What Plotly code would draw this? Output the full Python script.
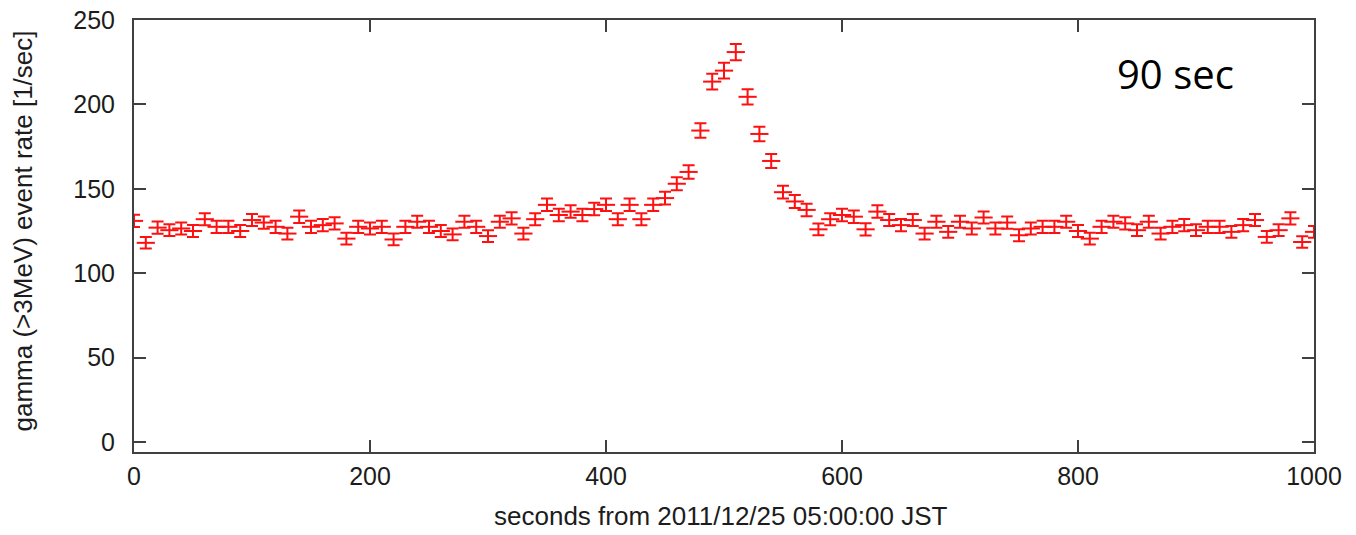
import plotly.graph_objects as go

# Gamma-ray (>3 MeV) event rate in 10-second bins
seconds = list(range(0, 1001, 10))

rate = [
    131, 118, 127, 125.5, 126.5, 125, 132, 127.5, 127.5, 125,
    131.5, 130, 127.5, 123.5, 133.5, 127.5, 128.5, 129.5, 120.5, 127.5,
    126.5, 127.5, 120, 127.5, 130.5, 127.5, 125, 123, 130.5, 127.5,
    122, 130.5, 132.5, 123.5, 132, 140.5, 134.5, 136.5, 134.5, 138,
    140.5, 132, 140.5, 132, 140.5, 144.5, 153, 160, 184.5, 213.5,
    220, 231, 204.5, 182.5, 166.5, 148, 142.5, 137.5, 126, 132,
    134.5, 133.5, 126, 136.5, 131.5, 128.5, 131.5, 123.5, 130.5, 124.5,
    130.5, 126.5, 133, 126.5, 130, 122.5, 126.5, 127.5, 127.5, 130.5,
    125, 120.5, 127.5, 130.5, 129.5, 125.5, 130.5, 123.5, 127.5, 128.5,
    125.5, 127.5, 127.5, 124.5, 128.5, 131.5, 121.5, 125.5, 132.5, 118.5,
    124.5,
]

rate_err = [
    3.6, 3.4, 3.6, 3.5, 3.6, 3.5, 3.6, 3.6, 3.6, 3.5,
    3.6, 3.6, 3.6, 3.5, 3.7, 3.6, 3.6, 3.6, 3.5, 3.6,
    3.6, 3.6, 3.5, 3.6, 3.6, 3.6, 3.5, 3.5, 3.6, 3.6,
    3.5, 3.6, 3.6, 3.5, 3.6, 3.7, 3.7, 3.7, 3.7, 3.7,
    3.7, 3.6, 3.7, 3.6, 3.7, 3.8, 3.9, 4.0, 4.3, 4.6,
    4.7, 4.8, 4.5, 4.3, 4.1, 3.8, 3.8, 3.7, 3.5, 3.6,
    3.7, 3.7, 3.6, 3.7, 3.6, 3.6, 3.6, 3.5, 3.6, 3.5,
    3.6, 3.6, 3.6, 3.6, 3.6, 3.5, 3.6, 3.6, 3.6, 3.6,
    3.5, 3.5, 3.6, 3.6, 3.6, 3.5, 3.6, 3.5, 3.6, 3.6,
    3.5, 3.6, 3.6, 3.5, 3.6, 3.6, 3.5, 3.5, 3.6, 3.4,
    3.5,
]

x_ticks = [0, 200, 400, 600, 800, 1000]
y_ticks = [0, 50, 100, 150, 200, 250]

RED = "#ff1010"
FRAME = "#404040"
TEXT = "#1c1c1c"

fig = go.Figure()
fig.add_trace(go.Scatter(
    x=seconds,
    y=rate,
    mode="markers",
    marker=dict(symbol="line-ew", size=13, color=RED,
                line=dict(color=RED, width=2)),
    error_y=dict(type="data", array=rate_err, visible=True,
                 color=RED, thickness=2, width=6),
    showlegend=False,
    hoverinfo="x+y",
))

axis_common = dict(
    showline=True, linecolor=FRAME, linewidth=2, mirror="ticks",
    ticks="inside", ticklen=12, tickwidth=2, tickcolor=FRAME,
    showgrid=False, zeroline=False, automargin=False,
    tickfont=dict(family="Liberation Sans, Arial, sans-serif", size=25, color=TEXT),
)

fig.update_xaxes(range=[0, 1000], tickvals=x_ticks,
                 ticktext=[str(v) for v in x_ticks],
                 ticklabelstandoff=1, **axis_common)
fig.update_yaxes(range=[-5.9, 250], tickvals=y_ticks,
                 ticktext=[str(v) for v in y_ticks],
                 ticklabelstandoff=12, **axis_common)

fig.add_annotation(
    text="seconds from 2011/12/25 05:00:00 JST",
    xref="paper", yref="paper", x=0.497, y=-0.148,
    xanchor="center", yanchor="middle", showarrow=False,
    font=dict(family="Liberation Sans, Arial, sans-serif", size=26, color=TEXT),
)
fig.add_annotation(
    text="gamma (>3MeV) event rate [1/sec]",
    xref="paper", yref="paper", x=-0.0945, y=0.5116,
    xanchor="center", yanchor="middle", textangle=-90, showarrow=False,
    font=dict(family="Liberation Sans, Arial, sans-serif", size=26, color=TEXT),
)
fig.add_annotation(
    text="90 sec",
    xref="paper", yref="paper", x=0.8826, y=0.877,
    xanchor="center", yanchor="middle", showarrow=False,
    font=dict(family="Open Sans, sans-serif", size=40, color="#000000"),
)

fig.update_layout(
    width=1356, height=535,
    margin=dict(l=134, r=42, t=20, b=83),
    paper_bgcolor="white", plot_bgcolor="white",
)

fig.write_html("out.html")
